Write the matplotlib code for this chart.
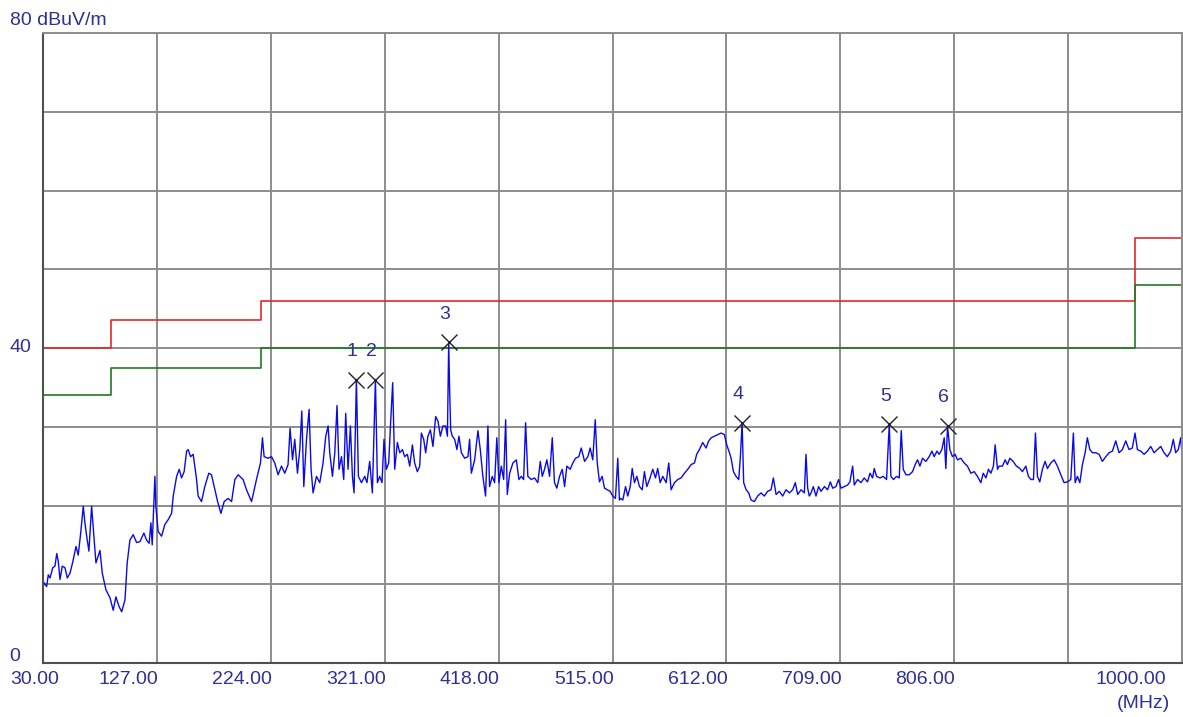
import matplotlib.pyplot as plt
from matplotlib.transforms import offset_copy, blended_transform_factory

# measured trace (MHz, dBuV/m)
freq = [
    30.0, 30.9, 33.1, 34.5, 36.0, 38.3, 40.2, 41.7, 43.0, 44.5, 46.4, 48.7, 50.7, 53.0, 55.3,
    58.1, 60.0, 62.1, 64.3, 65.7, 67.2, 69.1, 71.4, 73.4, 75.1, 78.5, 80.5, 83.6, 87.0, 89.8,
    92.1, 94.7, 97.0, 99.8, 101.7, 104.0, 106.8, 109.7, 112.5, 115.9, 118.2, 120.4, 121.9, 123.0,
    125.3, 126.1, 128.1, 131.0, 133.8, 136.6, 139.5, 140.9, 143.8, 146.0, 148.0, 150.2, 152.3,
    153.6, 155.7, 157.9, 160.8, 162.1, 165.0, 167.8, 171.2, 173.5, 176.4, 178.7, 181.5, 184.3,
    187.7, 190.6, 193.4, 196.2,
    197.6, 200.4, 203.3, 207.6, 211.8, 215.2, 216.9, 218.3, 221.7, 224.6, 227.4, 230.2, 233.1,
    235.9, 238.7, 240.4, 242.5, 244.4, 246.7, 248.7, 250.4, 252.1, 254.4, 256.6, 258.3, 260.0,
    262.9, 265.7, 268.5, 270.8, 272.8, 274.2, 276.5, 278.5, 280.4, 282.1, 284.2, 286.1, 287.8,
    289.8, 291.8, 293.5, 294.9, 296.9, 298.6, 301.2, 304.0, 305.9, 308.2, 310.5, 313.1, 314.8,
    316.7, 318.7, 320.4, 322.4, 324.4, 325.9, 327.8, 329.5, 331.8, 333.8, 336.1, 338.0, 340.3,
    342.3, 344.6, 346.5, 348.8,
    350.8, 352.2, 354.2, 355.9, 357.8, 359.9, 362.1, 364.4, 366.4, 368.4, 370.6, 372.9, 374.4,
    375.5, 376.3, 377.2, 378.6, 380.6, 382.5, 384.2, 386.3, 389.1, 391.9, 393.3, 394.8, 397.6,
    400.4, 402.4, 404.6, 406.9, 408.9, 410.3, 412.6, 414.6, 416.5, 418.3, 420.3, 422.3, 424.0,
    425.4, 427.4, 430.2, 433.1, 435.3, 437.3, 439.3, 441.0, 442.9, 445.8, 448.6, 451.4, 453.5,
    455.2, 457.1, 459.1, 461.4, 463.7, 465.6, 467.6, 469.9, 472.2, 474.2, 476.1, 479.0, 481.2,
    483.5, 486.3, 488.4, 491.2, 494.0, 496.0, 498.2, 500.3, 502.0, 503.9, 506.2, 508.2, 510.5,
    513.0, 515.2, 517.5, 519.5, 520.9,
    521.8, 523.8, 526.1, 528.0, 530.1, 531.8, 533.7, 535.7, 538.0, 540.3, 542.2, 544.2, 546.5,
    549.3, 551.6, 553.5, 555.6, 557.8, 560.7, 562.9, 564.9, 567.8, 570.6, 573.4, 576.3, 579.1,
    582.0, 584.8, 586.7, 589.0, 591.8, 594.7, 596.9, 599.0, 601.8, 604.6, 607.5, 610.3, 612.3,
    614.6, 616.0, 618.0, 620.2, 622.5, 623.9, 625.4, 626.7, 628.8, 631.0, 633.0, 635.8, 638.6,
    641.5, 644.3, 647.1, 650.0, 652.0, 654.3, 657.1, 659.9, 662.8, 665.6, 668.4, 670.7, 672.7,
    675.6, 678.4, 679.8, 681.2, 682.6,
    684.1, 686.0, 688.3, 690.5, 692.6, 695.5, 698.2, 700.5, 702.5, 705.3, 707.5, 709.6, 712.4,
    715.2, 717.2, 719.5, 720.9, 723.7, 726.6, 729.4, 732.2, 734.3, 736.5, 737.9, 739.9, 742.8,
    745.6, 748.4, 749.6, 750.7, 752.1, 754.3, 756.9, 759.2, 760.9, 762.6, 764.9, 767.7, 770.5,
    772.8, 774.8, 776.8, 779.0, 781.9, 784.7, 787.0, 789.0, 791.3, 793.2, 795.5, 797.5, 798.9,
    800.3, 802.3, 804.5, 806.8, 808.8, 811.7, 814.5, 817.3, 820.2, 823.0, 825.8, 828.7, 830.7,
    833.0, 835.2, 837.2, 839.4, 840.9, 842.9, 844.3,
    847.1, 849.4, 851.3, 853.4, 856.2, 859.0, 861.9, 864.1, 867.0, 869.2, 871.3, 873.5, 875.2,
    876.9, 878.9, 881.1, 883.4, 885.4, 888.3, 891.1, 893.9, 896.8, 899.6, 902.4, 905.3, 907.5,
    909.0, 910.9, 913.0, 915.2, 917.5, 919.4, 921.5, 923.7, 926.6, 929.4, 932.2, 935.1, 937.9,
    940.7, 943.6, 946.4, 949.2, 952.1, 954.9, 957.7, 960.0, 962.0, 964.9, 967.7, 970.5, 973.4,
    976.2, 979.0, 981.9, 984.7, 987.5, 990.4, 992.6, 994.6, 996.8, 998.9, 1000.0,
]
level = [
    9.5, 10.2, 9.7, 11.2, 10.8, 12.1, 12.3, 13.9, 12.9, 10.6, 12.3, 12.1, 10.8, 11.4, 12.8,
    14.8, 13.7, 16.5, 19.9, 17.8, 16.1, 14.2, 19.9, 16.1, 12.7, 14.3, 11.4, 9.3, 8.3, 6.7,
    8.4, 7.2, 6.5, 8.0, 12.7, 15.6, 16.3, 15.3, 15.4, 16.5, 15.6, 15.2, 17.8, 15.0,
    23.7, 19.9, 16.7, 16.1, 17.6, 18.2, 19.0, 21.2, 23.7, 24.6, 23.5, 24.3, 26.9,
    27.1, 26.2, 26.5, 23.3, 21.2, 20.5, 22.4, 24.1, 23.9, 22.0, 20.5, 19.0, 20.5,
    20.9, 20.5, 23.3, 23.9,
    23.7, 23.3, 22.0, 20.5, 23.3, 25.4, 28.6, 26.2, 26.0, 26.2, 25.4, 23.9, 25.0,
    24.1, 25.2, 29.8, 25.8, 28.4, 24.1, 27.1, 32.0, 22.4, 28.4, 32.2, 24.6, 21.6,
    23.7, 22.9, 25.4, 28.8, 30.1, 26.7, 23.7, 26.7, 32.7, 24.6, 26.2, 23.3, 31.7,
    24.6, 30.1, 23.7, 21.6, 36.0, 23.7, 22.9, 23.7, 22.9, 25.6, 21.6, 36.0, 22.9,
    23.7, 22.9, 28.4, 24.6, 25.4, 30.1, 35.6, 24.6, 28.0, 26.7, 27.1, 26.2, 26.5,
    25.0, 27.7, 25.4, 24.3,
    25.0, 29.2, 28.4, 26.7, 28.8, 29.6, 27.5, 31.3, 30.7, 28.8, 30.1, 30.1, 28.8,
    40.7, 34.7, 29.6, 28.8, 28.4, 27.1, 28.8, 26.7, 26.0, 26.2, 28.4, 24.1, 25.8,
    29.5, 27.1, 23.7, 21.2, 30.1, 22.4, 23.7, 22.9, 28.6, 22.9, 25.0, 23.3, 30.9,
    21.4, 24.1, 25.4, 25.8, 23.3, 23.7, 23.3, 30.5, 23.7, 23.3, 23.5, 22.9, 25.6,
    23.7, 24.6, 25.8, 23.7, 28.6, 22.9, 22.2, 23.7, 24.6, 22.4, 25.0, 24.6, 25.4,
    26.0, 26.2, 27.3, 25.6, 26.2, 27.3, 25.8, 30.9, 25.4, 23.0, 23.7, 22.2, 22.0,
    21.8, 21.2, 20.9, 26.0, 20.7,
    20.9, 20.7, 22.4, 21.2, 22.4, 24.7, 22.9, 23.7, 22.4, 22.0, 24.3, 22.4, 23.3,
    24.6, 23.5, 24.7, 22.9, 23.7, 22.9, 25.4, 22.0, 22.9, 23.3, 23.5, 24.1, 24.6,
    25.2, 25.4, 26.5, 27.1, 28.0, 27.3, 28.2, 28.6, 28.8, 29.0, 29.2, 29.0, 27.7,
    26.7, 26.0, 24.3, 23.7, 23.3, 26.2, 30.5, 22.9, 22.0, 21.6, 20.7, 20.5, 21.2,
    21.6, 21.2, 21.8, 22.0, 23.5, 21.4, 21.8, 21.2, 22.0, 21.6, 22.0, 22.9, 21.4,
    22.0, 21.6, 26.5, 22.2, 21.2,
    21.6, 22.4, 21.2, 22.4, 21.8, 22.4, 22.0, 23.0, 22.2, 22.4, 23.3, 22.2, 22.4,
    22.6, 23.0, 25.0, 22.6, 23.3, 22.9, 23.5, 23.0, 24.1, 23.5, 24.7, 23.7, 23.5,
    23.7, 23.3, 26.9, 30.3, 23.7, 23.3, 23.7, 23.5, 29.5, 24.6, 23.9, 23.9, 24.3,
    25.2, 25.8, 25.0, 26.0, 25.6, 26.2, 26.9, 26.2, 26.9, 26.5, 27.1, 28.6, 24.7,
    30.1, 27.1, 26.2, 26.5, 25.8, 26.0, 25.4, 25.0, 24.1, 24.3, 23.7, 22.9, 24.1,
    23.5, 24.6, 24.1, 25.0, 27.7, 24.6, 25.0,
    25.0, 25.8, 25.2, 26.0, 25.6, 25.0, 24.7, 24.3, 25.0, 23.7, 23.3, 23.3, 29.2,
    23.7, 23.0, 24.6, 25.6, 24.7, 25.4, 25.8, 25.0, 23.9, 22.9, 23.0, 23.3, 29.2,
    22.9, 23.7, 22.9, 25.2, 26.7, 28.6, 27.1, 26.7, 26.7, 26.5, 25.6, 26.2, 26.7,
    26.9, 28.2, 26.7, 27.1, 28.2, 27.1, 27.3, 29.2, 27.1, 26.9, 26.5, 26.9, 27.5,
    26.7, 27.1, 27.5, 26.7, 26.2, 26.9, 28.4, 26.7, 27.1, 28.6, 26.5,
]

# limit lines (steps)
limit_freq = [30, 88, 216, 960, 1000]
limit_qp = [40, 43.5, 46, 54, 54]
limit_margin = [34, 37.5, 40, 48, 48]

# peak markers
marker_freq = [296.9, 313.1, 375.5, 625.4, 750.7, 800.3]
marker_level = [36.0, 36.0, 40.7, 30.5, 30.3, 30.1]

x_ticks = [30, 127, 224, 321, 418, 515, 612, 709, 806, 903, 1000]
x_labels = ["30.00", "127.00", "224.00", "321.00", "418.00", "515.00",
            "612.00", "709.00", "806.00", "", "1000.00"]

text_color = "#2e3192"
fs = 14
plt.rcParams["font.family"] = ["Liberation Sans", "DejaVu Sans"]

fig = plt.figure(figsize=(11.83, 7.17), dpi=100)
ax = fig.add_axes([43 / 1183, 54 / 717, 1139 / 1183, 630 / 717])

ax.plot(limit_freq, limit_qp, drawstyle="steps-post", color="#e02a2a", lw=1.2)
ax.plot(limit_freq, limit_margin, drawstyle="steps-post", color="#1f7a1f", lw=1.2)
ax.plot(freq, level, color="#0a0ae6", lw=1.0)
ax.plot(marker_freq, marker_level, "x", color="#222222", ms=11, mew=1.0)
for i, (f, l) in enumerate(zip(marker_freq, marker_level)):
    ax.annotate(str(i + 1), (f, l), xytext=(-4, 28), textcoords="offset pixels",
                ha="center", va="center", fontsize=fs, color=text_color)

ax.set_xlim(30, 1000)
ax.set_ylim(0, 80)
ax.set_xticks(x_ticks)
ax.set_yticks(range(0, 81, 10))
ax.tick_params(length=0, labelbottom=False, labelleft=False)
ax.set_axisbelow(True)
ax.grid(True, color="#8c8c8c", lw=1.4)
for side in ["top", "right"]:
    ax.spines[side].set_color("#8c8c8c")
    ax.spines[side].set_linewidth(1.4)
for side in ["left", "bottom"]:
    ax.spines[side].set_color("#505050")
    ax.spines[side].set_linewidth(1.5)

# x labels, right-aligned to grid lines like the original software
xtr = ax.get_xaxis_transform()
for t, lab in zip(x_ticks, x_labels):
    if not lab:
        continue
    if t == 30:
        tr = offset_copy(xtr, fig=fig, x=-33, y=-17, units="dots")
        ha = "left"
    elif t == 1000:
        tr = offset_copy(xtr, fig=fig, x=-16, y=-17, units="dots")
        ha = "right"
    else:
        tr = offset_copy(xtr, fig=fig, x=1, y=-17, units="dots")
        ha = "right"
    ax.text(t, 0, lab, transform=tr, ha=ha, va="center", fontsize=fs, color=text_color)
ax.text(1000, 0, "(MHz)", transform=offset_copy(xtr, fig=fig, x=-12, y=-41, units="dots"),
        ha="right", va="center", fontsize=fs, color=text_color)

# y labels
ytr = blended_transform_factory(fig.transFigure, ax.transData)
lx = 9.5 / 1183
ax.text(lx, 80, "80 dBuV/m", transform=offset_copy(ytr, fig=fig, y=8, units="dots"),
        ha="left", va="baseline", fontsize=fs, color=text_color)
ax.text(lx, 40, "40", transform=ytr, ha="left", va="center", fontsize=fs, color=text_color)
ax.text(lx, 0, "0", transform=offset_copy(ytr, fig=fig, y=2, units="dots"),
        ha="left", va="baseline", fontsize=fs, color=text_color)

fig.savefig("out.png", dpi=100)
